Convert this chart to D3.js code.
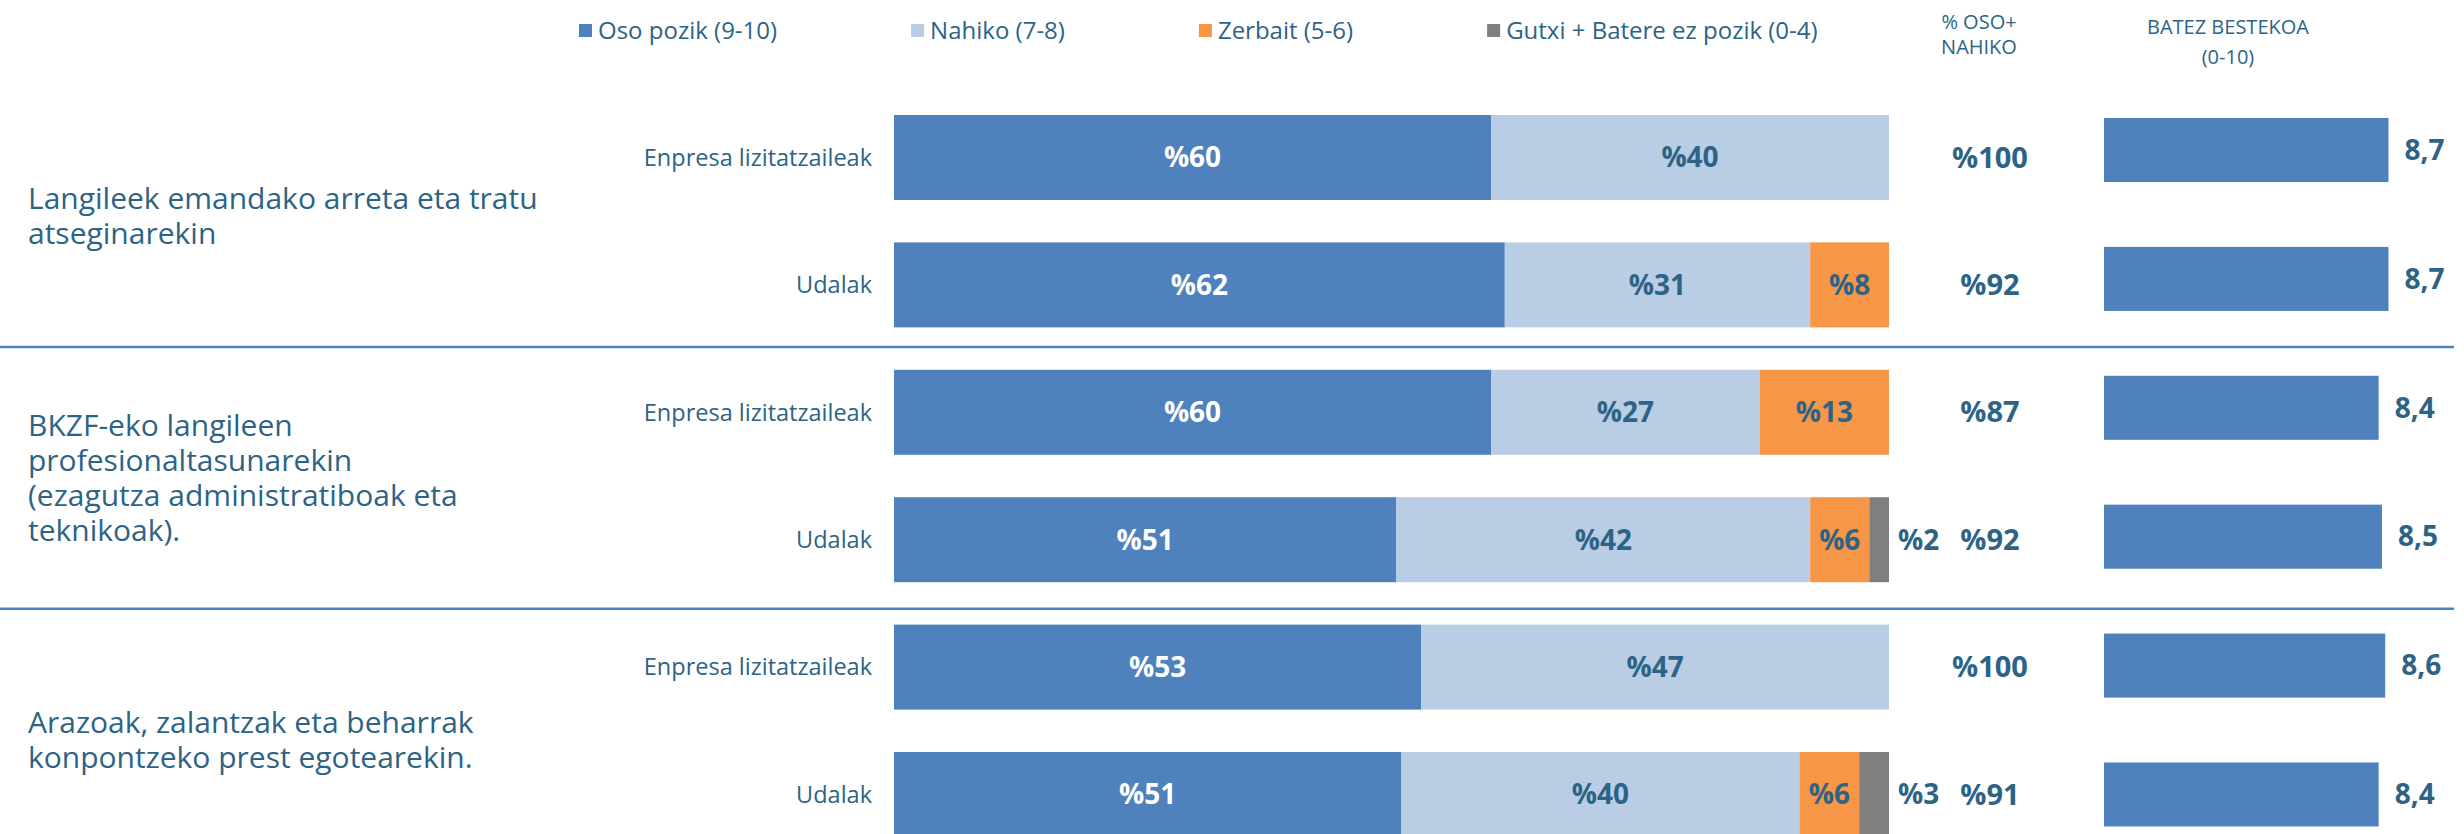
<!DOCTYPE html>
<html>
<head>
<meta charset="utf-8">
<script src="https://cdn.jsdelivr.net/npm/d3@7"></script>
<style>
  body { margin: 0; background: #fff; }
  svg { display: block; font-family: "Open Sans", "DejaVu Sans", sans-serif; }
</style>
</head>
<body>
<svg id="chart" width="2464" height="834"></svg>
<script>
// --- data ---
var groupLines = [
  ["Langileek emandako arreta eta tratu", "atseginarekin"],
  ["BKZF-eko langileen", "profesionaltasunarekin", "(ezagutza administratiboak eta", "teknikoak)."],
  ["Arazoak, zalantzak eta beharrak", "konpontzeko prest egotearekin."]
];
var respondents = ["Enpresa lizitatzaileak", "Udalak"];
var categories = ["Oso pozik (9-10)", "Nahiko (7-8)", "Zerbait (5-6)", "Gutxi + Batere ez pozik (0-4)"];
var osoPozik = [60, 62, 60, 51, 53, 51];
var nahiko   = [40, 31, 27, 42, 47, 40];
var zerbait  = [0, 8, 13, 6, 0, 6];
var gutxi    = [0, 0, 0, 2, 0, 3];
var osoNahiko = [100, 92, 87, 92, 100, 91];
var batezBestekoa = [8.7, 8.7, 8.4, 8.5, 8.6, 8.4];

var colors = ["#4f81bd", "#b9cde5", "#f79646", "#7f7f7f"];
var textColor = "#2d6385";

// one row per (group, respondent)
var rows = [];
groupLines.forEach(function(g, gi) {
  respondents.forEach(function(r, ri) {
    var i = gi * 2 + ri;
    rows.push({id: i, group: gi, who: r,
      "Oso pozik (9-10)": osoPozik[i], "Nahiko (7-8)": nahiko[i],
      "Zerbait (5-6)": zerbait[i], "Gutxi + Batere ez pozik (0-4)": gutxi[i],
      total: osoNahiko[i], mean: batezBestekoa[i]});
  });
});

var svg = d3.select("#chart");

var y = d3.scaleBand().domain(rows.map(function(d){ return d.id; }))
  .range([115, 837]).paddingInner(0.333).paddingOuter(0);
var yMean = d3.scaleBand().domain(rows.map(function(d){ return d.id; }))
  .range([118, 826.5]).paddingInner(0.503).paddingOuter(0);
var yGroup = d3.scaleBand().domain(d3.range(groupLines.length)).range([85.3, 870.4]);

var x = d3.scaleLinear().domain([0, 1]).range([894, 1889]);
var xMean = d3.scaleLinear().domain([0, 10]).range([0, 327]);
var meanX0 = 2104;

// separators between groups
svg.append("g").selectAll("line")
  .data(d3.range(1, groupLines.length))
  .join("line")
    .attr("x1", 0).attr("x2", 2454)
    .attr("y1", function(d){ return yGroup(d); })
    .attr("y2", function(d){ return yGroup(d); })
    .attr("stroke", "#4f81bd").attr("stroke-width", 2.5);

// group text on the left
var gt = svg.append("g").selectAll("text")
  .data(groupLines)
  .join("text")
    .attr("fill", textColor)
    .style("font-size", "30px")
    .attr("x", 28)
    .attr("y", function(d, i){ return yGroup(i) + yGroup.bandwidth() / 2 - (d.length - 1) * 35 / 2; });
gt.selectAll("tspan")
  .data(function(d){ return d; })
  .join("tspan")
    .attr("x", 28)
    .attr("dy", function(d, i){ return i === 0 ? "0.35em" : 35; })
    .text(function(d){ return d; });

// respondent labels
svg.append("g").selectAll("text")
  .data(rows)
  .join("text")
    .attr("x", 872)
    .attr("y", function(d){ return y(d.id) + y.bandwidth() / 2; })
    .attr("dy", "0.35em")
    .attr("text-anchor", "end")
    .attr("fill", textColor)
    .style("font-size", "23.5px")
    .text(function(d){ return d.who; });

// stacked bars
var series = d3.stack().keys(categories).offset(d3.stackOffsetExpand)(rows);

var layer = svg.append("g").selectAll("g")
  .data(series)
  .join("g")
    .attr("fill", function(d, i){ return colors[i]; });

layer.selectAll("rect")
  .data(function(d){ return d.filter(function(s){ return s.data[d.key] > 0; }); })
  .join("rect")
    .attr("x", function(d){ return x(d[0]); })
    .attr("y", function(d){ return y(d.data.id); })
    .attr("width", function(d){ return x(d[1]) - x(d[0]); })
    .attr("height", y.bandwidth());

layer.selectAll("text")
  .data(function(d){
    var ki = categories.indexOf(d.key);
    return d.filter(function(s){ return s.data[d.key] > 0; })
      .map(function(s){ return {s: s, v: s.data[d.key], ki: ki}; });
  })
  .join("text")
    .each(function(d){
      var w = x(d.s[1]) - x(d.s[0]);
      var inside = w > 40;
      d3.select(this)
        .attr("x", inside ? (x(d.s[0]) + x(d.s[1])) / 2 : x.range()[1] + 9)
        .attr("text-anchor", inside ? "middle" : "start");
    })
    .attr("y", function(d){ return y(d.s.data.id) + y.bandwidth() / 2; })
    .attr("dy", "0.35em")
    .attr("fill", function(d){ return d.ki === 0 ? "#fff" : textColor; })
    .style("font-size", "28px")
    .style("font-weight", "700")
    .text(function(d){ return "%" + d.v; });

// % OSO + NAHIKO column
svg.append("g").selectAll("text")
  .data(rows)
  .join("text")
    .attr("x", 1990)
    .attr("y", function(d){ return y(d.id) + y.bandwidth() / 2; })
    .attr("dy", "0.35em")
    .attr("text-anchor", "middle")
    .attr("fill", textColor)
    .style("font-size", "29px")
    .style("font-weight", "700")
    .text(function(d){ return "%" + d.total; });

// mean bars
var mean = svg.append("g");
mean.selectAll("rect")
  .data(rows)
  .join("rect")
    .attr("x", meanX0)
    .attr("y", function(d){ return yMean(d.id); })
    .attr("width", function(d){ return xMean(d.mean); })
    .attr("height", yMean.bandwidth())
    .attr("fill", colors[0]);
mean.selectAll("text")
  .data(rows)
  .join("text")
    .attr("x", function(d){ return meanX0 + xMean(d.mean) + 16; })
    .attr("y", function(d){ return yMean(d.id) + yMean.bandwidth() / 2; })
    .attr("dy", "0.35em")
    .attr("fill", textColor)
    .style("font-size", "28px")
    .style("font-weight", "700")
    .text(function(d){ return d3.format(".1f")(d.mean).replace(".", ","); });

// legend
var legend = svg.append("g");
var lx = 579;
categories.forEach(function(c, i) {
  legend.append("rect")
    .attr("x", lx).attr("y", 24).attr("width", 13).attr("height", 13)
    .attr("fill", colors[i]);
  var t = legend.append("text")
    .attr("x", lx + 19).attr("y", 31).attr("dy", "0.35em")
    .attr("fill", textColor)
    .style("font-size", "24px")
    .text(c);
  lx += 19 + t.node().getComputedTextLength() + 134;
});

// column headers
var headers = [
  {x: 1979, lines: ["% OSO+", "NAHIKO"], y0: 22, dy: 25},
  {x: 2228, lines: ["BATEZ BESTEKOA", "(0-10)"], y0: 27, dy: 30}
];
headers.forEach(function(h) {
  svg.append("text")
    .attr("text-anchor", "middle")
    .attr("fill", textColor)
    .style("font-size", "20px")
    .selectAll("tspan")
    .data(h.lines)
    .join("tspan")
      .attr("x", h.x)
      .attr("y", function(d, i){ return h.y0 + i * h.dy; })
      .attr("dy", "0.35em")
      .text(function(d){ return d; });
});
</script>
</body>
</html>
